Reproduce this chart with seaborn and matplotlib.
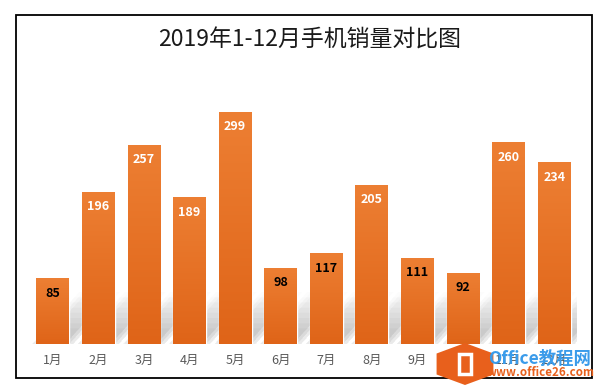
import numpy as np
import pandas as pd
import seaborn as sns
import matplotlib.pyplot as plt
from matplotlib.colors import LinearSegmentedColormap
from matplotlib.patches import Rectangle, Polygon, RegularPolygon

# data
months = ["1月", "2月", "3月", "4月", "5月", "6月", "7月", "8月", "9月", "10月", "11月", "12月"]
sales = [85, 196, 257, 189, 299, 98, 117, 205, 111, 92, 260, 234]
title = "2019年1-12月手机销量对比图"

sns.set_theme(style="white")
plt.rcParams['font.family'] = ['Noto Sans CJK SC', 'DejaVu Sans']

W, H = 611, 391
fig = plt.figure(figsize=(W / 100, H / 100), dpi=100)
ax = fig.add_axes([30 / W, (H - 344) / H, 547 / W, (344 - 72.4) / H])

df = pd.DataFrame({"month": months, "sales": sales})
sns.barplot(data=df, x="month", y="sales", color="#E97A2F", saturation=1,
            width=0.72, ax=ax, zorder=3)

ax.set_xlim(-0.5, 11.5)
ax.set_ylim(0, 350)

# per-bar vertical gradient
cmap = LinearSegmentedColormap.from_list("orange", ["#DF6418", "#ED7F33"])
grad = np.linspace(0, 1, 256).reshape(-1, 1)
for p in ax.patches:
    x0, y0 = p.get_x(), p.get_y()
    w, h = p.get_width(), p.get_height()
    im = ax.imshow(grad, cmap=cmap, origin="lower", aspect="auto",
                   extent=[x0, x0 + w, y0, y0 + h], zorder=4)
    im.set_clip_path(p)

# soft diagonal shadows behind the bars
px_x = 547 / 12
px_y = (344 - 72.4) / 350
bw = 0.72
for i, v in enumerate(sales):
    hpx = min(v * px_y, 52)
    for k in range(8):
        hh = hpx * (k + 3) / 10
        for off in (-4, 0, 4):
            dx = hh * 0.9 / px_x
            o = off / px_x
            poly = Polygon([(i - bw / 2 + o, 0), (i + bw / 2 + o, 0),
                            (i + bw / 2 + o + dx, hh / px_y),
                            (i - bw / 2 + o + dx, hh / px_y)],
                           closed=True, fc="#8c8c8c", ec="none", alpha=0.018, zorder=2)
            ax.add_patch(poly)

ax.set_ylim(0, 350)
ax.set_xlim(-0.5, 11.5)

# value labels
for i, v in enumerate(sales):
    ax.text(i, v - 15 / px_y, str(v), ha="center", va="center", fontsize=9,
            fontweight="bold", color="white" if v >= 150 else "black", zorder=6)

for s in ax.spines.values():
    s.set_visible(False)
ax.set_yticks([])
ax.set_xlabel("")
ax.set_ylabel("")
ax.tick_params(axis="x", length=0, pad=7, labelsize=9, labelcolor="#595959")

# outer frame and title
fig.add_artist(Rectangle((16 / W, 1 - 378 / H), (592 - 16) / W, (378 - 15) / H,
                         transform=fig.transFigure, fill=False, ec="black", lw=1.3))
fig.text(310 / W, 1 - 40 / H, title, ha="center", va="center", fontsize=16.5, color="#1a1a1a")

# watermark
fig.add_artist(RegularPolygon((465 / W, 1 - 364 / H), numVertices=6, radius=21 / H,
                              orientation=0, transform=fig.transFigure,
                              fc="#E8601C", ec="none", zorder=10))
fig.add_artist(Rectangle((459 / W, 1 - 374 / H), 12 / W, 20 / H, transform=fig.transFigure,
                         fill=False, ec="white", lw=2.5, zorder=11))
fig.text(488 / W, 1 - 359 / H, "Office教程网", ha="left", va="center", fontsize=12.5,
         fontweight="bold", color="#3A9BEA", zorder=11)
fig.text(487 / W, 1 - 373 / H, "www.office26.com", ha="left", va="center", fontsize=8.3,
         fontweight="bold", color="#E8601C", zorder=11)

fig.savefig("out.png", dpi=100)
